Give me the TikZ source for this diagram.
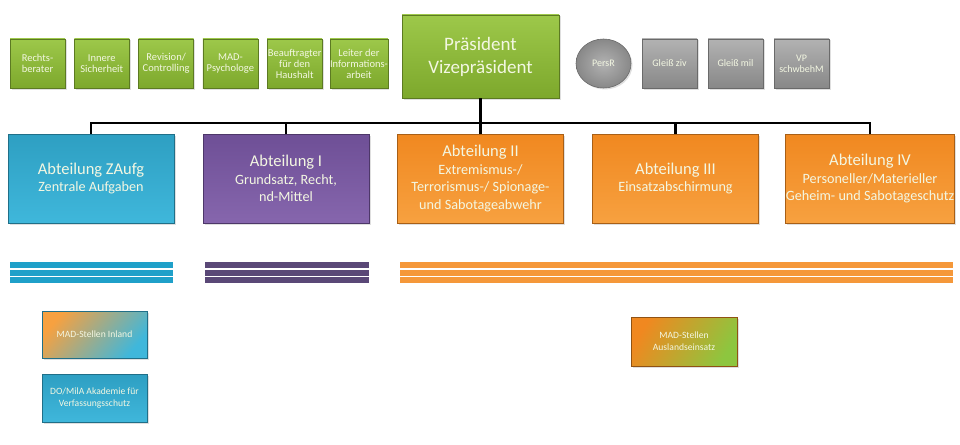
\documentclass[tikz,border=0pt]{standalone}
\usepackage{fontspec}
\setmainfont{Carlito}
\usepackage{tikz}
\usetikzlibrary{shapes.geometric}
\usetikzlibrary{shadows}
\usepackage[dvipsnames]{xcolor}
\definecolor{gruenhell}{HTML}{9DC84A}
\definecolor{gruendunkel}{HTML}{7DA82C}
\definecolor{gruenrand}{HTML}{5C7A22}
\definecolor{grauhell}{HTML}{B2B2B2}
\definecolor{graudunkel}{HTML}{888888}
\definecolor{graurand}{HTML}{6A6A6A}
\definecolor{zaufghell}{HTML}{2E9FC2}
\definecolor{zaufgdunkel}{HTML}{3FB7DB}
\definecolor{lilahell}{HTML}{6E4F96}
\definecolor{liladunkel}{HTML}{8666AD}
\definecolor{orangehell}{HTML}{F08820}
\definecolor{orangedunkel}{HTML}{F7A140}
\definecolor{streifzaufg}{HTML}{1FA0C9}
\definecolor{streiflila}{HTML}{5A4877}
\definecolor{streiforange}{HTML}{F5983A}
\definecolor{schrift}{HTML}{F3F7E2}
\definecolor{auslandgruen}{HTML}{8DC63F}
\newcommand{\abttitel}{\fontsize{16.5}{19}\selectfont}

\begin{document}
\begin{tikzpicture}[x=1pt, y=-1pt,
    box/.style={rectangle, draw, line width=0.6pt, inner sep=0pt, align=center, text=schrift,
        drop shadow={opacity=0.25, shadow xshift=1.5pt, shadow yshift=-1.5pt}},
    stabbox/.style={box, draw=gruenrand, top color=gruenhell, bottom color=gruendunkel,
        minimum width=55pt, minimum height=49pt, font=\fontsize{10.5}{11}\selectfont},
    graubox/.style={box, draw=graurand, top color=grauhell, bottom color=graudunkel,
        minimum width=55pt, minimum height=49pt, font=\fontsize{10}{11}\selectfont},
    abtbox/.style={box, minimum width=166pt, minimum height=89pt, font=\fontsize{14.2}{17.5}\selectfont},
    stellebox/.style={box, minimum width=105pt, minimum height=48pt, font=\fontsize{9.6}{12}\selectfont},
    linie/.style={line width=2.5pt, black}]

    \useasboundingbox (0,0) rectangle (960,444);

    % Stabsstellen
    \foreach \n/\t [count=\i from 0] in {rb/{Rechts-\\berater}, is/{Innere\\Sicherheit},
        rev/{Revision/\\Controlling}, psy/{MAD-\\Psychologe}, bdh/{Beauftragter\\f\"ur den\\Haushalt},
        lia/{Leiter der\\Informations-\\arbeit}}{
        \node[stabbox] (\n) at ({37.5+64.3*\i},63.5) {\t};
    }

    % Leitung
    \node[box, draw=gruenrand, top color=gruenhell, bottom color=gruendunkel,
        minimum width=157pt, minimum height=83pt, font=\fontsize{19}{23}\selectfont]
        (praes) at (480.5,56.5) {Pr\"asident\\Vizepr\"asident};

    % Vertretungen
    \node[box, ellipse, draw=graurand, inner color=grauhell, outer color=graudunkel,
        minimum width=55pt, minimum height=49pt, font=\fontsize{10}{11}\selectfont]
        (persr) at (603.5,63.5) {PersR};
    \foreach \n/\t [count=\i from 0] in {gbziv/{Glei\ss{} ziv}, gbmil/{Glei\ss{} mil}, vp/{VP\\schwbehM}}{
        \node[graubox] (\n) at ({669.5+66*\i},63.5) {\t};
    }

    % Abteilungen
    \node[abtbox, draw=zaufghell!70!black, top color=zaufghell, bottom color=zaufgdunkel]
        (zaufg) at (91,178.5) {{\abttitel Abteilung ZAufg}\\Zentrale Aufgaben};
    \node[abtbox, draw=lilahell!70!black, top color=lilahell, bottom color=liladunkel]
        (abt1) at (286,178.5) {{\abttitel Abteilung I}\\Grundsatz, Recht,\\nd-Mittel};
    \node[abtbox, draw=orangehell!70!black, top color=orangehell, bottom color=orangedunkel]
        (abt2) at (480.5,178.5) {{\abttitel Abteilung II}\\Extremismus-/\\Terrorismus-/ Spionage-\\und Sabotageabwehr};
    \node[abtbox, draw=orangehell!70!black, top color=orangehell, bottom color=orangedunkel]
        (abt3) at (675.5,178.5) {{\abttitel Abteilung III}\\Einsatzabschirmung};
    \node[abtbox, draw=orangehell!70!black, top color=orangehell, bottom color=orangedunkel]
        (abt4) at (870,178.5) {{\abttitel Abteilung IV}\\Personeller/Materieller\\Geheim- und Sabotageschutz};

    % Verbindungen
    \coordinate (bus) at (480.5,123);
    \draw[linie] (praes.south) -- (bus);
    \draw[linie] (zaufg.north) |- (bus) -| (abt4.north);
    \foreach \d in {abt1,abt2,abt3}{
        \draw[linie] (\d.north) -- (\d.north |- bus);
    }

    % Streifen
    \foreach \a/ \b/ \c in {10/173/streifzaufg, 205/369/streiflila, 400/953/streiforange}{
        \foreach \y in {262,269.5,277}{
            \fill[\c] (\a,\y) rectangle (\b,\y+6);
        }
    }

    % Aussenstellen
    \node[stellebox, draw=zaufghell!70!black, top color=orangedunkel,
        bottom color=zaufgdunkel, shading angle=50, minimum height=47pt]
        (inland) at (94.5,334.5) {MAD-Stellen Inland};
    \node[stellebox, draw=zaufghell!70!black, top color=zaufghell, bottom color=zaufgdunkel]
        (mila) at (94.5,398) {DO/MilA Akademie f\"ur\\Verfassungsschutz};
    \node[stellebox, draw=orangehell!60!black, top color=orangehell,
        bottom color=auslandgruen, shading angle=60, minimum width=106pt, minimum height=49pt]
        (ausland) at (684,341.5) {MAD-Stellen\\Auslandseinsatz};

\end{tikzpicture}
\end{document}
